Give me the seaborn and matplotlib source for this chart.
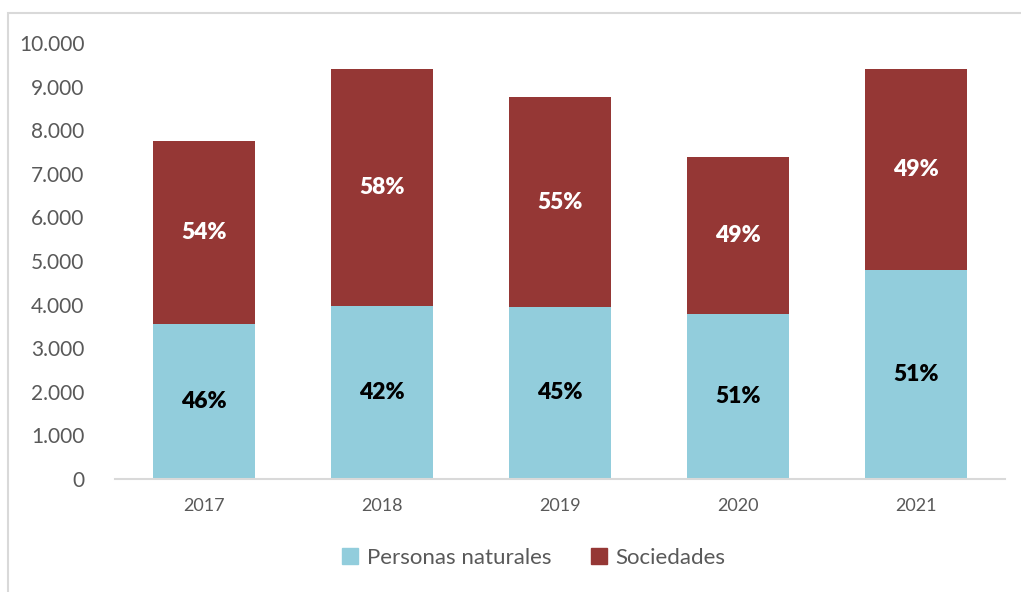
import matplotlib.pyplot as plt
import matplotlib.patches as mpatches
import matplotlib.ticker as mticker
import numpy as np
import pandas as pd
import seaborn as sns

years = ["2017", "2018", "2019", "2020", "2021"]
personas = [3555, 3970, 3945, 3785, 4795]
sociedades = [4195, 5430, 4815, 3600, 4605]
pct_personas = ["46%", "42%", "45%", "51%", "51%"]
pct_sociedades = ["54%", "58%", "55%", "49%", "49%"]

blue = "#92CDDC"
red = "#953735"
gray = "#595959"

sns.set_theme(style="white")
plt.rcParams["font.family"] = ["Lato", "DejaVu Sans"]

df = pd.DataFrame({"year": years, "personas": personas, "sociedades": sociedades})
df["total"] = df["personas"] + df["sociedades"]

fig = plt.figure(figsize=(10.21, 5.92), dpi=100)
ax = fig.add_axes([115 / 1021, 1 - 479 / 592, 890 / 1021, 436 / 592])

# total first (red), then the lower segment on top (blue)
sns.barplot(data=df, x="year", y="total", color=red, width=0.573,
            saturation=1, ax=ax, edgecolor="none")
sns.barplot(data=df, x="year", y="personas", color=blue, width=0.573,
            saturation=1, ax=ax, edgecolor="none")

for i, row in df.iterrows():
    ax.text(i, row["personas"] / 2, pct_personas[i], ha="center", va="center",
            fontsize=16.5, fontweight="heavy", color="black")
    ax.text(i, row["personas"] + row["sociedades"] / 2, pct_sociedades[i],
            ha="center", va="center", fontsize=16.5, fontweight="heavy", color="white")

ax.set_ylim(0, 10000)
ax.set_xlim(-0.5, 4.5)
ax.yaxis.set_major_locator(mticker.MultipleLocator(1000))
ax.yaxis.set_major_formatter(mticker.FuncFormatter(lambda v, p: f"{int(v):,}".replace(",", ".")))
ax.set_xlabel("")
ax.set_ylabel("")
for s in ["top", "right", "left"]:
    ax.spines[s].set_visible(False)
ax.spines["bottom"].set_color("#D9D9D9")
ax.spines["bottom"].set_linewidth(1.5)
ax.tick_params(axis="y", length=0, labelsize=15, labelcolor=gray, pad=22)
ax.tick_params(axis="x", length=0, labelsize=13, labelcolor=gray, pad=14)

handles = [mpatches.Patch(color=blue, label="Personas naturales"),
           mpatches.Patch(color=red, label="Sociedades")]
fig.legend(handles=handles, loc="center", bbox_to_anchor=(0.523, 1 - 558 / 592),
           ncol=2, frameon=False, fontsize=16, labelcolor=gray,
           handlelength=0.7, handleheight=0.7, columnspacing=1.8, handletextpad=0.4)

fig.patches.append(mpatches.Rectangle((8 / 1021, -0.1), 1.2, 1 - 13 / 592 + 0.1,
                                      transform=fig.transFigure, fill=False,
                                      edgecolor="#D9D9D9", linewidth=1.5))

fig.savefig("out.png", dpi=100)
